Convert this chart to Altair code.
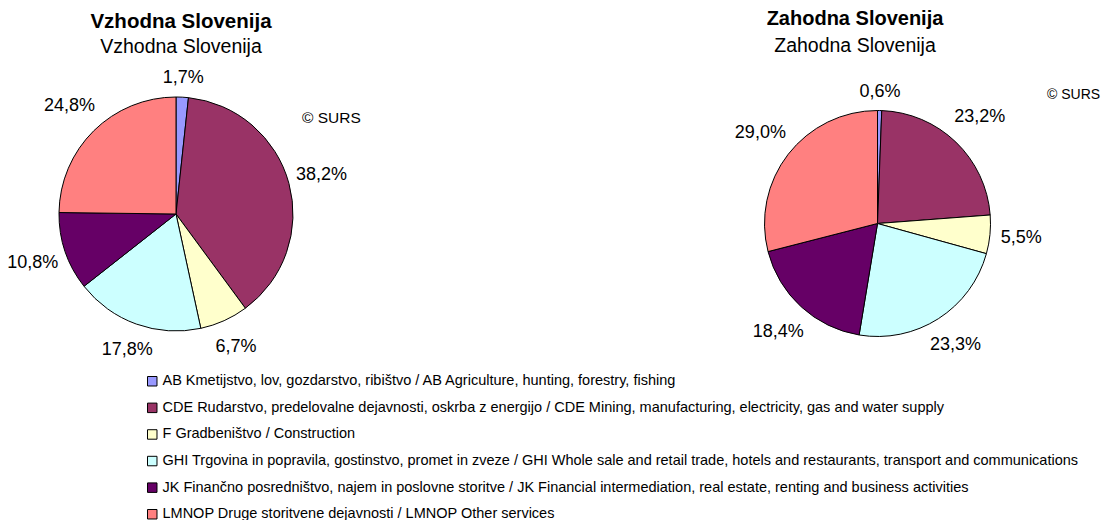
import altair as alt
import pandas as pd

categories = [
    "AB Kmetijstvo, lov, gozdarstvo, ribištvo / AB Agriculture, hunting, forestry, fishing",
    "CDE Rudarstvo, predelovalne dejavnosti, oskrba z energijo / CDE Mining, manufacturing, electricity, gas and water supply",
    "F Gradbeništvo / Construction",
    "GHI Trgovina in popravila, gostinstvo, promet in zveze / GHI Whole sale and retail trade, hotels and restaurants, transport and communications",
    "JK Finančno posredništvo, najem in poslovne storitve / JK Financial intermediation, real estate, renting and business activities",
    "LMNOP Druge storitvene dejavnosti / LMNOP Other services",
]
vzhodna = [1.7, 38.2, 6.7, 17.8, 10.8, 24.8]
zahodna = [0.6, 23.2, 5.5, 23.3, 18.4, 29.0]
regions = ["Vzhodna Slovenija", "Zahodna Slovenija"]
colors = ["#9999FF", "#993366", "#FFFFCC", "#CCFFFF", "#660066", "#FF8080"]

rows = []
for reg, vals in zip(regions, [vzhodna, zahodna]):
    for i, (c, v) in enumerate(zip(categories, vals)):
        rows.append({"region": reg, "category": c, "value": v, "idx": i,
                     "label": f"{v:.1f}".replace(".", ",") + "%"})
df = pd.DataFrame(rows)

FONT = "Liberation Sans"
color = alt.Color(
    "category:N",
    scale=alt.Scale(domain=categories, range=colors),
    sort=categories,
    legend=alt.Legend(
        title=None, orient="none", legendX=137, legendY=366, direction="vertical",
        symbolType="square", symbolSize=90, symbolStrokeColor="black", symbolStrokeWidth=1,
        labelFont=FONT, labelFontSize=14.5, labelColor="black", labelLimit=0,
        rowPadding=11.6, labelOffset=3, padding=0, offset=0,
    ),
)


def pie(reg, cx, cy, r):
    base = alt.Chart(df).transform_filter(alt.datum.region == reg)
    arc = base.mark_arc(outerRadius=r, stroke="black", strokeWidth=1).encode(
        theta=alt.Theta("value:Q", stack=True),
        color=color,
        order=alt.Order("idx:Q"),
        x=alt.value(cx), y=alt.value(cy),
    )
    txt = base.transform_joinaggregate(
        total="sum(value)"
    ).transform_window(
        cum="sum(value)", sort=[alt.SortField("idx")],
        frame=[None, 0],
    ).transform_calculate(
        mid="(datum.cum - datum.value/2) / datum.total * 2 * PI",
    ).transform_calculate(
        lr=f"{r} + 18 + 12 * abs(sin(datum.mid)) + 8 * abs(sin(2 * datum.mid))"
    ).mark_text(font=FONT, fontSize=18, color="black").encode(
        theta=alt.Theta("mid:Q", scale=None),
        radius=alt.Radius("lr:Q", scale=None),
        text="label:N",
        x=alt.value(cx), y=alt.value(cy),
    )
    return [arc, txt]


one = pd.DataFrame({"a": [0]})


def label(text, x, y, size, bold=False, align="center"):
    return alt.Chart(one).mark_text(
        font=FONT, fontSize=size, fontWeight="bold" if bold else "normal",
        align=align, baseline="alphabetic", color="black",
    ).encode(x=alt.value(x), y=alt.value(y), text=alt.value(text))


layers = []
layers += pie(regions[0], 168, 206, 117)
layers += pie(regions[1], 869.5, 215.5, 113)
layers += [
    label("Vzhodna Slovenija", 173, 20, 20.5, bold=True),
    label("Vzhodna Slovenija", 173, 45, 19.5),
    label("Zahodna Slovenija", 847, 17, 20, bold=True),
    label("Zahodna Slovenija", 847, 44, 19.5),
    label("© SURS", 294, 115, 15.5, align="left"),
    label("© SURS", 1039, 91, 14, align="left"),
]

chart = alt.layer(*layers).resolve_scale(theta="independent").properties(
    width=1093, height=512,
    autosize=alt.AutoSizeParams(type="none"),
    padding=0,
).configure_view(stroke=None)

chart.save("out.html", embed_options={"renderer": "svg", "actions": False})
